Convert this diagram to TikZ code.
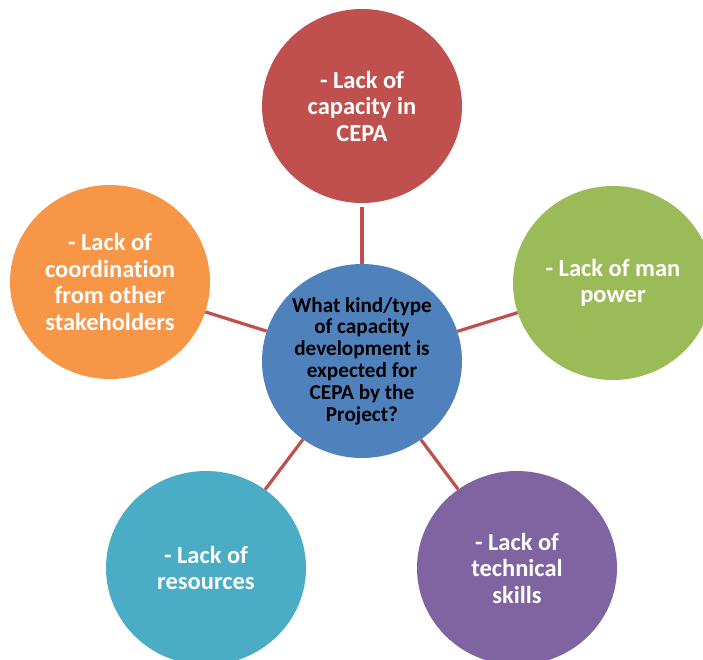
\documentclass[tikz,border=0pt]{standalone}
\usepackage{fontspec}
\setmainfont[Ligatures=NoCommon]{Carlito}
\usetikzlibrary{shapes.geometric}
\definecolor{cred}{HTML}{C0504D}
\definecolor{cblue}{HTML}{4F81BD}
\definecolor{cgreen}{HTML}{9BBB59}
\definecolor{corange}{HTML}{F79646}
\definecolor{cteal}{HTML}{4BACC6}
\definecolor{cpurple}{HTML}{8064A2}
\tikzset{
  bubble/.style={ellipse, minimum width=200pt, minimum height=194pt, inner sep=0pt,
    align=center, text=white, font=\bfseries\fontsize{24.5}{26.5}\selectfont},
  hub/.style={bubble, fill=cblue, text=black, font=\bfseries\fontsize{21.2}{21.8}\selectfont},
  spoke/.style={draw=cred, line width=3.2pt}
}
\begin{document}
\begin{tikzpicture}[x=1pt,y=-1pt]
\clip (0,0) rectangle (703,659);
\fill[white] (0,0) rectangle (703,659);
\node[hub] (c) at (362,361) {What kind/type\\of capacity\\development is\\expected for\\CEPA by the\\Project?};
\node[bubble, fill=cred] (t) at (362,106) {- Lack of\\capacity in\\CEPA};
\node[bubble, fill=corange] (l) at (110,282) {- Lack of\\coordination\\from other\\stakeholders};
\node[bubble, fill=cgreen] (r) at (613,283) {- Lack of man\\power};
\node[bubble, fill=cteal] (bl) at (206,568) {- Lack of\\resources};
\node[bubble, fill=cpurple] (br) at (517,568) {- Lack of\\technical\\skills};
\draw[spoke, shorten >=4pt] (c) -- (t);
\draw[spoke] (c) -- (l);
\draw[spoke] (c) -- (r);
\draw[spoke] (c) -- (bl);
\draw[spoke] (c) -- (br);
\end{tikzpicture}
\end{document}
